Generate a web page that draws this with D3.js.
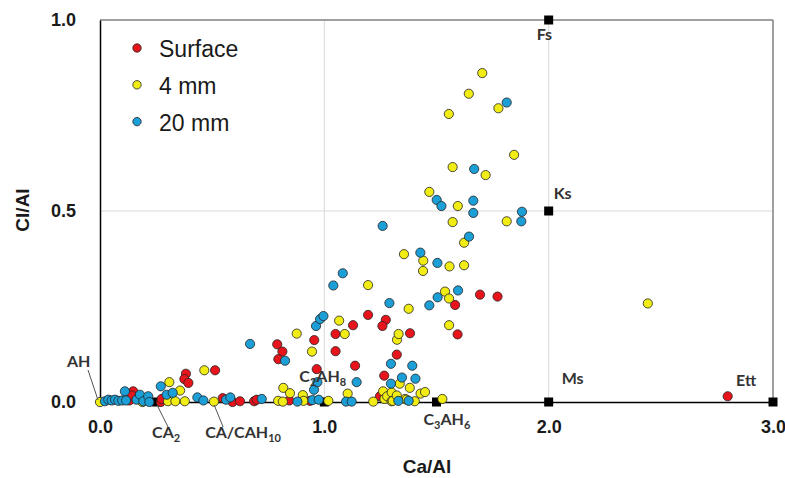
<!DOCTYPE html>
<html>
<head>
<meta charset="utf-8">
<script src="https://cdn.jsdelivr.net/npm/d3@7/dist/d3.min.js"></script>
<style>
  html, body { margin: 0; padding: 0; background: #fff; }
  svg { display: block; }
</style>
</head>
<body>
<svg id="chart" width="785" height="478"></svg>
<script>
// Cl/Al versus Ca/Al atomic ratios measured at three depths
const surfacePts = [
  [0.131,0.004],[0.148,0.028],[0.142,0.017],[0.271,0.000],[0.275,0.008],[0.383,0.074],
  [0.376,0.060],[0.394,0.050],[0.513,0.083],[0.547,0.010],[0.591,0.000],[0.624,0.002],
  [0.687,0.002],[0.698,0.006],[0.790,0.151],[0.813,0.132],[0.795,0.112],[0.844,0.004],
  [0.936,0.003],[0.955,0.162],[0.966,0.086],[1.050,0.178],[1.050,0.133],[1.137,0.095],
  [1.128,0.201],[1.195,0.228],[1.274,0.215],[1.259,0.199],[1.323,0.124],[1.382,0.180],
  [1.267,0.069],[1.248,0.015],[1.583,0.254],[1.594,0.177],[1.694,0.281],[1.772,0.276],
  [2.798,0.015]
];
const mm4Pts = [
  [0.000,0.000],[0.189,0.000],[0.303,0.002],[0.309,0.052],[0.336,0.002],[0.357,0.030],
  [0.378,0.002],[0.465,0.083],[0.508,0.001],[0.794,0.003],[0.815,0.001],[0.817,0.037],
  [0.847,0.023],[0.877,0.179],[0.904,0.018],[0.907,0.003],[0.945,0.132],[1.018,0.003],
  [1.066,0.213],[1.091,0.178],[1.104,0.022],[1.195,0.306],[1.218,0.001],[1.262,0.028],
  [1.268,0.008],[1.280,0.015],[1.300,0.025],[1.300,0.002],[1.305,0.003],[1.323,0.017],
  [1.324,0.163],[1.331,0.178],[1.336,0.048],[1.355,0.387],[1.360,0.008],[1.367,0.006],
  [1.376,0.244],[1.381,0.037],[1.403,0.002],[1.429,0.022],[1.440,0.343],[1.441,0.370],
  [1.449,0.026],[1.468,0.550],[1.526,0.008],[1.538,0.289],[1.555,0.754],[1.556,0.271],
  [1.556,0.201],[1.558,0.355],[1.572,0.471],[1.572,0.615],[1.595,0.513],[1.623,0.358],
  [1.623,0.417],[1.644,0.807],[1.704,0.861],[1.719,0.594],[1.776,0.769],[1.813,0.473],
  [1.846,0.647],[2.442,0.258]
];
const mm20Pts = [
  [0.022,0.002],[0.037,0.006],[0.052,0.004],[0.067,0.006],[0.082,0.003],[0.099,0.004],
  [0.111,0.028],[0.116,0.004],[0.163,0.006],[0.178,0.019],[0.193,0.002],[0.215,0.015],
  [0.220,0.000],[0.271,0.041],[0.297,0.019],[0.324,0.024],[0.434,0.012],[0.461,0.004],
  [0.562,0.006],[0.581,0.012],[0.669,0.152],[0.721,0.008],[0.825,0.108],[0.880,0.001],
  [0.947,0.005],[0.954,0.032],[0.963,0.199],[0.969,0.052],[0.975,0.006],[0.981,0.217],
  [0.996,0.225],[1.040,0.305],[1.082,0.337],[1.097,0.001],[1.122,0.001],[1.144,0.052],
  [1.260,0.461],[1.290,0.259],[1.297,0.100],[1.297,0.048],[1.330,0.003],[1.346,0.064],
  [1.376,0.003],[1.392,0.095],[1.406,0.061],[1.428,0.391],[1.468,0.253],[1.501,0.529],
  [1.504,0.364],[1.505,0.274],[1.522,0.513],[1.596,0.292],[1.645,0.433],[1.664,0.527],
  [1.664,0.495],[1.668,0.610],[1.813,0.784],[1.878,0.473],[1.881,0.498]
];

const seriesNames = ["Surface", "4 mm", "20 mm"];
const seriesColors = ["#e8141c", "#f0ec14", "#1c9fd6"];

// Reference phases: name parts as [text, subscript] pairs, Ca/Al, Cl/Al
const phaseNames = [
  [["AH",""]],
  [["CA","2"]],
  [["CA/CAH","10"]],
  [["C","2"],["AH","8"]],
  [["C","3"],["AH","6"]],
  [["Ms",""]],
  [["Ks",""]],
  [["Fs",""]],
  [["Ett",""]]
];
const phaseCa = [0, 0.25, 0.5, 1.0, 1.5, 2.0, 2.0, 2.0, 3.0];
const phaseCl = [0, 0, 0, 0, 0, 0, 0.5, 1.0, 0];
const phaseHasMarker = [false, true, false, true, true, true, true, true, true];

const xTicks = [0, 1, 2, 3];
const yTicks = [0, 0.5, 1];

// label placement relative to each phase marker (pixels)
const labelLayout = [
  {dx: -33, dy: -35, leader: [[-12, -32], [-2, -2]]},
  {dx: -4,  dy: 36,  leader: [[1, 3], [12, 25]]},
  {dx: -7,  dy: 36,  leader: [[2, 3], [11, 25]]},
  {dx: -25, dy: -20},
  {dx: -13, dy: 23},
  {dx: 13,  dy: -18},
  {dx: 5,   dy: -12},
  {dx: -12, dy: 20},
  {dx: -37, dy: -16}
];

const svg = d3.select("#chart");
const m = {left: 100, right: 773, top: 20, bottom: 402};

const x = d3.scaleLinear().domain([0, 3]).range([m.left, m.right]);
const y = d3.scaleLinear().domain([0, 1]).range([m.bottom, m.top]);

// gridlines
const grid = svg.append("g");
grid.selectAll("line.gx").data([1, 2]).join("line")
  .attr("x1", d => x(d)).attr("x2", d => x(d))
  .attr("y1", m.top).attr("y2", m.bottom)
  .attr("stroke", "#d9d9d9").attr("stroke-width", 1);
grid.selectAll("line.gy").data([0.5]).join("line")
  .attr("x1", m.left).attr("x2", m.right)
  .attr("y1", d => y(d)).attr("y2", d => y(d))
  .attr("stroke", "#d9d9d9").attr("stroke-width", 1);

// outer frame: top and right in grey
svg.append("line").attr("x1", m.left).attr("x2", m.right).attr("y1", m.top).attr("y2", m.top)
  .attr("stroke", "#808080").attr("stroke-width", 1.5);
svg.append("line").attr("x1", m.right).attr("x2", m.right).attr("y1", m.top).attr("y2", m.bottom)
  .attr("stroke", "#808080").attr("stroke-width", 1.5);

// axes
const xAxis = svg.append("g").attr("transform", `translate(0,${m.bottom})`)
  .call(d3.axisBottom(x).tickValues(xTicks).tickFormat(d3.format(".1f")).tickSize(0).tickPadding(18));
const yAxis = svg.append("g").attr("transform", `translate(${m.left},0)`)
  .call(d3.axisLeft(y).tickValues(yTicks).tickFormat(d3.format(".1f")).tickSize(0).tickPadding(24));
[xAxis, yAxis].forEach(g => {
  g.select(".domain").attr("stroke", "#000").attr("stroke-width", 1.5);
  g.selectAll(".tick text")
    .attr("font-family", "'Liberation Sans', Arial, sans-serif")
    .attr("font-weight", "bold").attr("font-size", 18).attr("fill", "#1a1a1a");
});

// axis titles
svg.append("text").attr("x", 427).attr("y", 473).attr("text-anchor", "middle")
  .attr("font-family", "'Liberation Sans', Arial, sans-serif").attr("font-weight", "bold")
  .attr("font-size", 19).attr("fill", "#1a1a1a").text("Ca/Al");
svg.append("text").attr("transform", "translate(29,210) rotate(-90)").attr("text-anchor", "middle")
  .attr("font-family", "'Liberation Sans', Arial, sans-serif").attr("font-weight", "bold")
  .attr("font-size", 19).attr("fill", "#1a1a1a").text("Cl/Al");

// phase markers
const phases = phaseNames.map((n, i) => ({parts: n, ca: phaseCa[i], cl: phaseCl[i], marker: phaseHasMarker[i], lay: labelLayout[i]}));
svg.append("g").selectAll("rect").data(phases.filter(p => p.marker)).join("rect")
  .attr("x", d => x(d.ca) - 4.5).attr("y", d => y(d.cl) - 4.5)
  .attr("width", 9).attr("height", 9).attr("fill", "#000");

// data points
const allSeries = [surfacePts, mm4Pts, mm20Pts];
allSeries.forEach((pts, si) => {
  svg.append("g").selectAll("circle").data(pts).join("circle")
    .attr("cx", d => x(d[0])).attr("cy", d => y(d[1])).attr("r", 4.6)
    .attr("fill", seriesColors[si]).attr("stroke", "#222").attr("stroke-width", 0.8);
});

// phase labels and leader lines
const lab = svg.append("g");
phases.forEach(p => {
  const px = x(p.ca), py = y(p.cl);
  if (p.lay.leader) {
    const [a, b] = p.lay.leader;
    lab.append("line").attr("x1", px + a[0]).attr("y1", py + a[1])
      .attr("x2", px + b[0]).attr("y2", py + b[1])
      .attr("stroke", "#555").attr("stroke-width", 1);
  }
  const t = lab.append("text").attr("x", px + p.lay.dx).attr("y", py + p.lay.dy)
    .attr("font-family", "Lato, 'Open Sans', sans-serif").attr("font-weight", "bold")
    .attr("font-size", 16).attr("fill", "#333");
  let shifted = false;
  p.parts.forEach(([main, sub]) => {
    const mt = t.append("tspan").text(main);
    if (shifted) { mt.attr("dy", -4); shifted = false; }
    if (sub) {
      t.append("tspan").attr("font-size", 11).attr("dy", 4).text(sub);
      shifted = true;
    }
  });
});

// legend
const leg = svg.append("g");
seriesNames.forEach((name, i) => {
  const ly = 48 + i * 36.8;
  leg.append("circle").attr("cx", 137).attr("cy", ly).attr("r", 4.2)
    .attr("fill", seriesColors[i]).attr("stroke", "#222").attr("stroke-width", 0.8);
  leg.append("text").attr("x", 159).attr("y", ly + 9)
    .attr("font-family", "'Liberation Sans', Arial, sans-serif").attr("font-size", 23)
    .attr("fill", "#1a1a1a").text(name);
});
</script>
</body>
</html>
